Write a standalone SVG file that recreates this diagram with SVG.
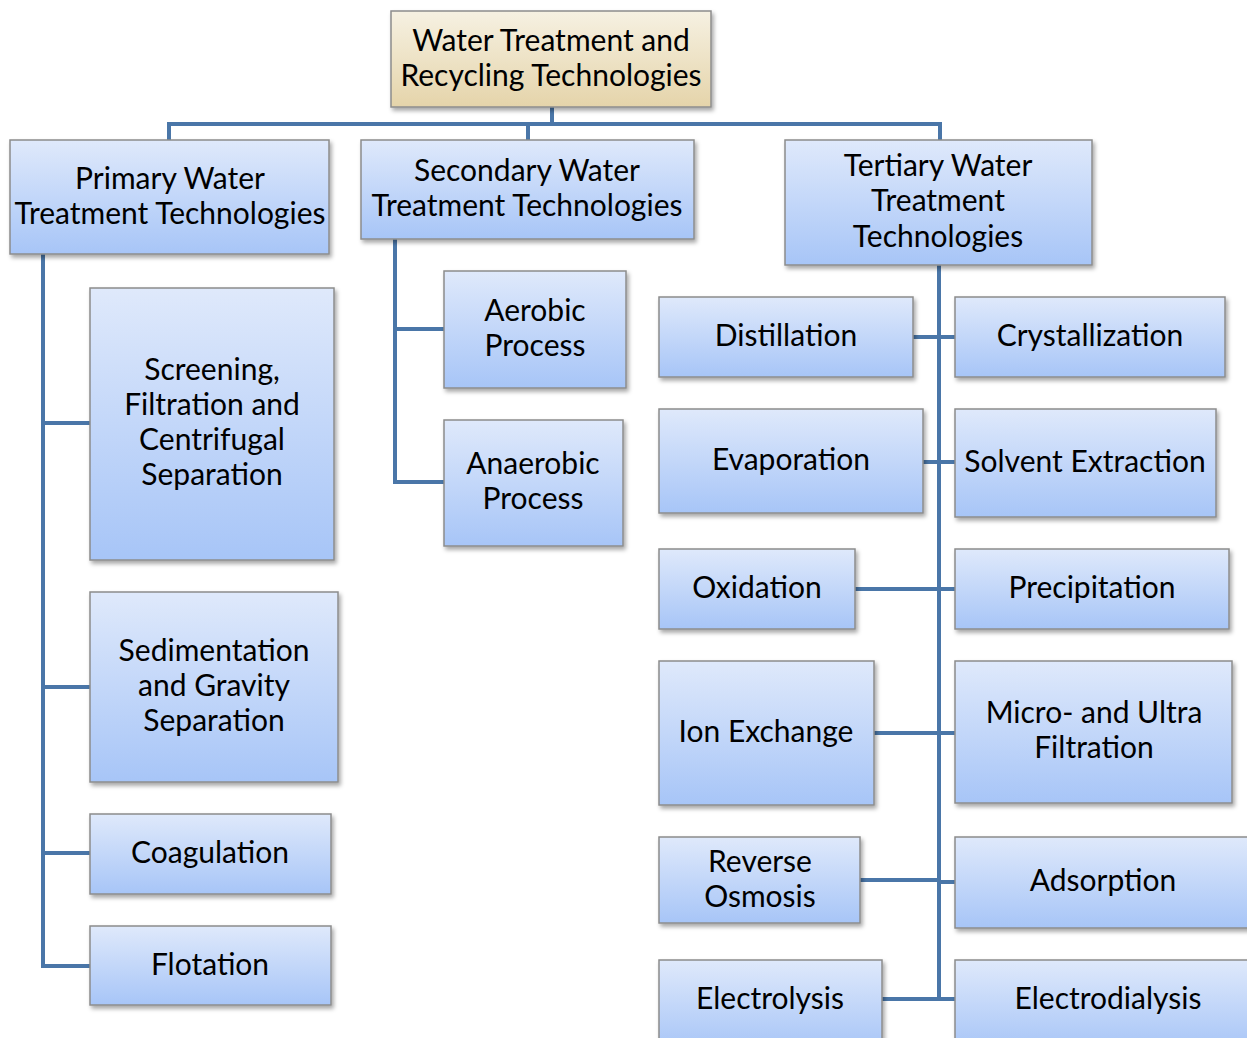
<svg xmlns="http://www.w3.org/2000/svg" width="1247" height="1038" viewBox="0 0 1247 1038">
<defs>
<linearGradient id="gb" x1="0" y1="0" x2="0" y2="1">
<stop offset="0" stop-color="#dfe9fb"/>
<stop offset="1" stop-color="#a7c5f7"/>
</linearGradient>
<linearGradient id="gr" x1="0" y1="0" x2="0" y2="1">
<stop offset="0" stop-color="#f6f1e2"/>
<stop offset="1" stop-color="#e5d4aa"/>
</linearGradient>
<filter id="sh" x="-10%" y="-10%" width="130%" height="140%">
<feDropShadow dx="2" dy="3" stdDeviation="2" flood-color="#000" flood-opacity="0.35"/>
</filter>
</defs>
<style>
.n rect{fill:url(#gb);stroke:#8c8c8c;stroke-width:1.5;filter:url(#sh)}
#root rect{fill:url(#gr)}
text{font-family:Lato,"Open Sans","Liberation Sans",sans-serif;font-size:30px;fill:#000;text-anchor:middle}
.c path{fill:none;stroke:#4a76a8;stroke-width:4}
</style>
<rect width="1247" height="1038" fill="#fff"/>
<g class="c" id="connectors">
<path d="M552 107V124M169 140V124H940V140M528 124V140"/>
<path d="M43 254V966H90M43 423H90M43 687H90M43 853H90"/>
<path d="M395 239V482H444M395 329H444"/>
<path d="M939 265V999M913 337H955M923 462H955M855 589H955M874 733H955M860 880H939M939 882H955M882 999H955"/>
</g>
<g class="n" id="root"><rect x="391" y="11" width="320" height="96"/><text x="551" y="51">Water Treatment and</text><text x="551" y="86">Recycling Technologies</text></g>
<g class="n" id="primary"><rect x="10" y="140" width="319" height="114"/><text x="170" y="189">Primary Water</text><text x="170" y="224">Treatment Technologies</text></g>
<g class="n" id="secondary"><rect x="361" y="140" width="333" height="99"/><text x="527" y="181">Secondary Water</text><text x="527" y="216">Treatment Technologies</text></g>
<g class="n" id="tertiary"><rect x="785" y="140" width="307" height="125"/><text x="938" y="176">Tertiary Water</text><text x="938" y="211">Treatment</text><text x="938" y="247">Technologies</text></g>
<g class="n" id="screening"><rect x="90" y="288" width="244" height="272"/><text x="212" y="380">Screening,</text><text x="212" y="415">Filtration and</text><text x="212" y="450">Centrifugal</text><text x="212" y="485">Separation</text></g>
<g class="n" id="sedimentation"><rect x="90" y="592" width="248" height="190"/><text x="214" y="661">Sedimentation</text><text x="214" y="696">and Gravity</text><text x="214" y="731">Separation</text></g>
<g class="n" id="coagulation"><rect x="90" y="814" width="241" height="80"/><text x="210" y="863">Coagulation</text></g>
<g class="n" id="flotation"><rect x="90" y="926" width="241" height="79"/><text x="210" y="975">Flotation</text></g>
<g class="n" id="aerobic"><rect x="444" y="271" width="182" height="117"/><text x="535" y="321">Aerobic</text><text x="535" y="356">Process</text></g>
<g class="n" id="anaerobic"><rect x="444" y="420" width="179" height="126"/><text x="533" y="474">Anaerobic</text><text x="533" y="509">Process</text></g>
<g class="n" id="distillation"><rect x="659" y="297" width="254" height="80"/><text x="786" y="346">Distillation</text></g>
<g class="n" id="crystallization"><rect x="955" y="297" width="270" height="80"/><text x="1090" y="346">Crystallization</text></g>
<g class="n" id="evaporation"><rect x="659" y="409" width="264" height="104"/><text x="791" y="470">Evaporation</text></g>
<g class="n" id="solvent"><rect x="955" y="409" width="261" height="108"/><text x="1085" y="472">Solvent Extraction</text></g>
<g class="n" id="oxidation"><rect x="659" y="549" width="196" height="80"/><text x="757" y="598">Oxidation</text></g>
<g class="n" id="precipitation"><rect x="955" y="549" width="274" height="80"/><text x="1092" y="598">Precipitation</text></g>
<g class="n" id="ionexchange"><rect x="659" y="661" width="215" height="144"/><text x="766" y="742">Ion Exchange</text></g>
<g class="n" id="microultra"><rect x="955" y="661" width="277" height="142"/><text x="1094" y="723">Micro- and Ultra</text><text x="1094" y="758">Filtration</text></g>
<g class="n" id="reverseosmosis"><rect x="659" y="837" width="201" height="86"/><text x="760" y="872">Reverse</text><text x="760" y="907">Osmosis</text></g>
<g class="n" id="adsorption"><rect x="955" y="837" width="300" height="91"/><text x="1103" y="891">Adsorption</text></g>
<g class="n" id="electrolysis"><rect x="659" y="960" width="223" height="90"/><text x="770" y="1009">Electrolysis</text></g>
<g class="n" id="electrodialysis"><rect x="955" y="960" width="300" height="90"/><text x="1108" y="1009">Electrodialysis</text></g>
</svg>
